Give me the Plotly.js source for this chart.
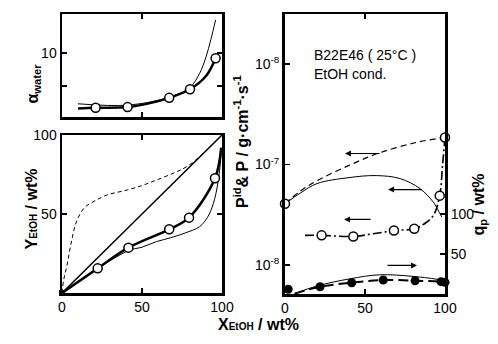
<!DOCTYPE html>
<html><head><meta charset="utf-8">
<script src="https://cdn.plot.ly/plotly-3.0.1.min.js"></script>
<style>html,body{margin:0;padding:0;background:#fff}#chart{width:498px;height:344px}</style>
</head><body><div id="chart"></div>
<script>
// ---- Top-left: separation factor alpha_water vs X_EtOH ----
const alphaPtsX = [21, 41, 67, 80, 96];
const alphaPtsY = [1.7, 1.8, 3.2, 4.5, 9.2];
const alphaThickX = [10, 21, 41, 55, 67, 80, 90, 96];
const alphaThickY = [1.6, 1.7, 1.8, 2.4, 3.2, 4.5, 6.5, 9.2];
const alphaThinX = [10, 41, 67, 80, 86, 90, 93, 96];
const alphaThinY = [2.3, 2.1, 3.3, 4.8, 6.9, 9.4, 12, 15];

// ---- Bottom-left: Y_EtOH vs X_EtOH ----
const diagX = [0, 100];
const diagY = [0, 100];
const vleX = [0, 1, 3, 6, 9, 14, 20, 28, 40, 50, 59, 70, 78, 88, 100];
const vleY = [0, 8, 17, 33, 45, 54, 58, 62, 65, 68, 71.5, 76, 80, 88, 100];
const yPtsX = [22.3, 41.5, 67, 79.4, 95.6];
const yPtsY = [15.6, 28.7, 40.3, 47.7, 72.6];
const yThickX = [0, 22.3, 41.5, 67, 79.4, 95.6, 99.5];
const yThickY = [0, 15.6, 28.7, 40.3, 47.7, 72.6, 92];
const yThinX = [0, 20, 42, 50, 59, 68, 77, 86, 91, 94.6, 97.5, 99.5];
const yThinY = [0, 14, 27, 29, 32.5, 35, 38, 42, 48, 56.7, 70, 88];

// ---- Right: permeability P^id & P (log) and q_p ----
const pidX = [0, 10, 20, 40, 58, 82, 100];
const pidY = [4.07e-8, 5.5e-8, 6.9e-8, 9.8e-8, 1.29e-7, 1.66e-7, 1.86e-7];
const pEndX = [0, 100];
const pEndY = [4.07e-8, 1.86e-7];
const pThinX = [0, 10, 20, 40, 57, 72, 84.4, 92.7, 95.5, 98];
const pThinY = [4.07e-8, 5.25e-8, 6.46e-8, 7.41e-8, 7.76e-8, 7.24e-8, 5.75e-8, 4.22e-8, 3.55e-8, 3.0e-8];
const pPtsX = [22.9, 42.7, 68.1, 80.8, 96.7];
const pPtsY = [1.97e-8, 1.92e-8, 2.2e-8, 2.29e-8, 4.9e-8];
const pDashDotX = [12.5, 22.9, 42.7, 55, 68.1, 80.8, 88, 93, 96.7, 98.5, 100];
const pDashDotY = [1.97e-8, 1.97e-8, 1.92e-8, 2.04e-8, 2.2e-8, 2.29e-8, 2.63e-8, 3.16e-8, 4.9e-8, 1.0e-7, 1.86e-7];
const qPtsX = [2, 21.9, 41.7, 61.4, 81.3, 97.5, 100];
const qPtsY = [5.9, 9.1, 14.1, 17.5, 16.6, 15.4, 14.6];
const qDashX = [6, 21.9, 41.7, 61.4, 81.3, 97.5, 100];
const qDashY = [0.5, 9.1, 14.1, 17.5, 16.6, 15.4, 14.6];
const qThinX = [6, 20, 40.6, 59, 80, 96.9, 100];
const qThinY = [0.5, 10, 19, 24, 22, 17.5, 15];

const FONT = "Liberation Sans, Arial, sans-serif";
const BLK = "#000";
const openM = {symbol: "circle", size: 9, color: "#fff", line: {color: BLK, width: 1.5}};

const traces = [
  {x: alphaThinX, y: alphaThinY, xaxis: "x", yaxis: "y", mode: "lines", line: {color: BLK, width: 1, shape: "spline"}},
  {x: alphaThickX, y: alphaThickY, xaxis: "x", yaxis: "y", mode: "lines", line: {color: BLK, width: 2.5, shape: "spline"}},
  {x: alphaPtsX, y: alphaPtsY, xaxis: "x", yaxis: "y", mode: "markers", marker: openM, cliponaxis: false},

  {x: diagX, y: diagY, xaxis: "x2", yaxis: "y2", mode: "lines", line: {color: BLK, width: 1.5}},
  {x: vleX, y: vleY, xaxis: "x2", yaxis: "y2", mode: "lines", line: {color: BLK, width: 1, dash: "4px,3px", shape: "spline"}},
  {x: yThinX, y: yThinY, xaxis: "x2", yaxis: "y2", mode: "lines", line: {color: BLK, width: 1, shape: "spline"}},
  {x: yThickX, y: yThickY, xaxis: "x2", yaxis: "y2", mode: "lines", line: {color: BLK, width: 2.5, shape: "spline"}},
  {x: yPtsX, y: yPtsY, xaxis: "x2", yaxis: "y2", mode: "markers", marker: openM, cliponaxis: false},
  {x: [0], y: [0], xaxis: "x2", yaxis: "y2", mode: "markers", marker: {symbol: "square", size: 6, color: BLK}, cliponaxis: false},

  {x: pidX, y: pidY, xaxis: "x3", yaxis: "y3", mode: "lines", line: {color: BLK, width: 1.2, dash: "6px,4px", shape: "spline"}},
  {x: pThinX, y: pThinY, xaxis: "x3", yaxis: "y3", mode: "lines", line: {color: BLK, width: 1, shape: "spline"}},
  {x: pDashDotX, y: pDashDotY, xaxis: "x3", yaxis: "y3", mode: "lines", line: {color: BLK, width: 1.6, dash: "9px,3px,2px,3px", shape: "spline"}},
  {x: pPtsX, y: pPtsY, xaxis: "x3", yaxis: "y3", mode: "markers", marker: openM, cliponaxis: false},
  {x: pEndX, y: pEndY, xaxis: "x3", yaxis: "y3", mode: "markers", marker: openM, cliponaxis: false},

  {x: qThinX, y: qThinY, xaxis: "x3", yaxis: "y4", mode: "lines", line: {color: BLK, width: 1, shape: "spline"}},
  {x: qDashX, y: qDashY, xaxis: "x3", yaxis: "y4", mode: "lines", line: {color: BLK, width: 2, dash: "10px,5px", shape: "spline"}},
  {x: qPtsX, y: qPtsY, xaxis: "x3", yaxis: "y4", mode: "markers", marker: {symbol: "circle", size: 9, color: BLK}, cliponaxis: false}
];

const ax = (o) => Object.assign({
  showline: true, linecolor: BLK, linewidth: 2.5, mirror: "ticks",
  ticks: "inside", ticklen: 5, tickwidth: 1.5, tickcolor: BLK,
  showgrid: false, zeroline: false, fixedrange: true,
  tickfont: {family: FONT, size: 14, color: BLK}
}, o);

const W = 498, H = 344;
const dx = (a, b) => [a / W, b / W];
const dy = (top, bot) => [1 - bot / H, 1 - top / H];
const TF = {size: 16, weight: "bold"};

const layout = {
  width: W, height: H,
  margin: {l: 0, r: 0, t: 0, b: 0},
  paper_bgcolor: "#fff", plot_bgcolor: "rgba(0,0,0,0)",
  showlegend: false,
  font: {family: FONT, size: 14, color: BLK},
  xaxis: ax({domain: dx(62, 222), range: [0, 100], anchor: "y", tickvals: [50], showticklabels: false}),
  yaxis: ax({domain: dy(14, 117), range: [0.3, 15.9], anchor: "x", tickvals: [5, 10], ticktext: ["", "10"]}),
  xaxis2: ax({domain: dx(62, 222), range: [0, 100], anchor: "y2", tickvals: [0, 50, 100]}),
  yaxis2: ax({domain: dy(135, 293), range: [0, 100], anchor: "x2", tickvals: [50, 100]}),
  xaxis3: ax({domain: dx(285, 445), range: [0, 100], anchor: "y3", tickvals: [0, 50, 100]}),
  yaxis3: ax({domain: dy(14, 294), type: "log", range: [-8.29, -5.5], anchor: "x3", linewidth: 3,
              tickvals: [1e-6, 1e-7, 1e-8], ticktext: ["10<sup>-8</sup>", "10<sup>-7</sup>", "10<sup>-8</sup>"], mirror: false}),
  yaxis4: ax({domain: dy(14, 294), range: [0, 350], anchor: "x3", overlaying: "y3", side: "right", linewidth: 3,
              tickvals: [50, 100], mirror: false}),
  annotations: [
    {xref: "paper", yref: "paper", x: 21 / W, y: 1 - 62 / H, text: "α<sub>water</sub>", textangle: -90, showarrow: false, font: TF},
    {xref: "paper", yref: "paper", x: 20 / W, y: 1 - 209 / H, text: "Y<span style='font-size:10px'>EtOH</span> / wt%", textangle: -90, showarrow: false, font: TF},
    {xref: "paper", yref: "paper", x: 241 / W, y: 1 - 142 / H, text: "P<sup>id</sup>& P / g·cm<sup>-1</sup>·s<sup>-1</sup>", textangle: -90, showarrow: false, font: TF},
    {xref: "paper", yref: "paper", x: 490 / W, y: 1 - 238 / H, text: "q<sub>p</sub> / wt%", textangle: -90, showarrow: false, font: TF},
    {xref: "paper", yref: "paper", x: 258 / W, y: 1 - 335 / H, text: "X<span style='font-size:10px'>EtOH</span> / wt%", showarrow: false, font: TF},
    {xref: "paper", yref: "paper", x: 312 / W, y: 1 - 45 / H, xanchor: "left", text: "B22E46 ( 25°C )", showarrow: false, font: {size: 14}},
    {xref: "paper", yref: "paper", x: 312 / W, y: 1 - 64 / H, xanchor: "left", text: "EtOH cond.", showarrow: false, font: {size: 14}},
    {xref: "x3", yref: "y3", x: 37.5, y: -6.89, ax: 36, ay: 0, text: "", showarrow: true, arrowhead: 2, arrowsize: 1, arrowwidth: 1.2, arrowcolor: BLK},
    {xref: "x3", yref: "y3", x: 64.4, y: -7.249, ax: 35, ay: 0, text: "", showarrow: true, arrowhead: 2, arrowsize: 1, arrowwidth: 1.2, arrowcolor: BLK},
    {xref: "x3", yref: "y3", x: 36.9, y: -7.547, ax: 28, ay: 0, text: "", showarrow: true, arrowhead: 2, arrowsize: 1, arrowwidth: 1.2, arrowcolor: BLK},
    {xref: "x3", yref: "y3", x: 82.5, y: -8.005, ax: -31, ay: 0, text: "", showarrow: true, arrowhead: 2, arrowsize: 1, arrowwidth: 1.2, arrowcolor: BLK}
  ]
};

Plotly.newPlot("chart", traces, layout, {displayModeBar: false, staticPlot: true});
</script></body></html>
